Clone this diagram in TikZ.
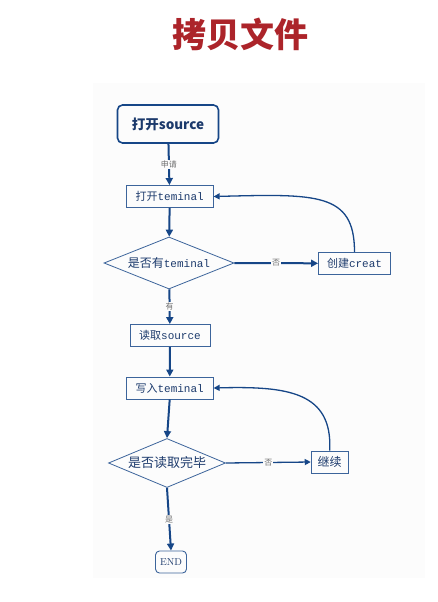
\documentclass[tikz,border=0pt]{standalone}
\usepackage{fontspec}
\usetikzlibrary{shapes.geometric,arrows.meta}
\newfontfamily\cjk{Noto Sans CJK SC}
\newfontfamily\mono{Liberation Mono}
\definecolor{titlered}{RGB}{172,36,42}
\definecolor{flowblue}{RGB}{22,70,135}
\definecolor{boxblue}{RGB}{60,100,155}
\definecolor{txtblue}{RGB}{28,58,108}
\definecolor{lblgray}{RGB}{110,110,110}
\definecolor{panel}{RGB}{252,252,252}
\tikzset{
  flowbox/.style={draw=boxblue, line width=0.9pt, inner sep=0pt, text=txtblue, font=\cjk\fontsize{11}{13}\selectfont},
  startbox/.style={draw=flowblue, line width=1.6pt, rounded corners=5pt, inner sep=0pt, text=txtblue},
  endbox/.style={draw=boxblue, line width=0.9pt, rounded corners=4pt, inner sep=0pt, text=txtblue, font=\fontsize{10}{12}\selectfont},
  decide/.style={diamond, aspect=2.5, draw=boxblue, line width=0.8pt, inner sep=0pt, text=txtblue, font=\cjk\fontsize{12}{14}\selectfont},
  thick arrow/.style={draw=flowblue, line width=2pt, -{Triangle[length=7pt,width=7pt]}},
  thin arrow/.style={draw=flowblue, line width=1.3pt, -{Triangle[length=6pt,width=6pt]}},
  lbl/.style={fill=panel, inner sep=1pt, text=lblgray, font=\cjk\fontsize{8}{9}\selectfont},
}
\begin{document}
\begin{tikzpicture}[x=1pt,y=-1pt]
\useasboundingbox (0,0) rectangle (438,602);
\fill[white] (0,0) rectangle (438,602);
\fill[panel] (93,83) rectangle (425,578);
\node[text=titlered, font=\cjk\bfseries\fontsize{34}{38}\selectfont] (title) at (240,34) {拷贝文件};

\node[startbox, minimum width=101pt, minimum height=38pt, font=\cjk\bfseries\fontsize{13.5}{15}\selectfont] (src) at (168,124) {打开source};
\node[flowbox, minimum width=87pt, minimum height=22pt] (open) at (169.7,196.5) {打开{\mono teminal}};
\node[decide, minimum width=130pt, minimum height=52pt] (has) at (169,263) {是否有{\mono\fontsize{11}{13}\selectfont teminal}};
\node[flowbox, minimum width=72pt, minimum height=22pt] (create) at (354.5,263.3) {创建{\mono creat}};
\node[flowbox, minimum width=80pt, minimum height=22pt] (read) at (170,335.5) {读取{\mono source}};
\node[flowbox, minimum width=87pt, minimum height=22pt] (write) at (169.7,388) {写入{\mono teminal}};
\node[decide, minimum width=117pt, minimum height=49pt, font=\cjk\fontsize{13}{15}\selectfont] (done) at (167,463) {是否读取完毕};
\node[flowbox, minimum width=37pt, minimum height=22pt, font=\cjk\fontsize{12}{14}\selectfont] (cont) at (329.7,462) {继续};
\node[endbox, minimum width=31pt, minimum height=22pt] (end) at (171,562) {END};

\draw[thick arrow] (src) -- node[lbl] {申请} (open);
\draw[thick arrow] (open) -- (has);
\draw[thick arrow] (has) -- node[lbl] {有} (read);
\draw[thick arrow] (has.east) -- node[lbl] {否} (create.west);
\draw[thick arrow] (read) -- (write);
\draw[thick arrow] (write.south) -- (done.north);
\draw[thin arrow] (done.east) -- node[lbl] {否} (cont.west);
\draw[thick arrow] (done.south) -- node[lbl] {是} (end.north);

\draw[thin arrow] (create.north) .. controls (354.5,192) and (316,194) .. (open.east);
\draw[thin arrow] (cont.north) .. controls (332.7,392) and (288,386) .. (write.east);
\end{tikzpicture}
\end{document}
